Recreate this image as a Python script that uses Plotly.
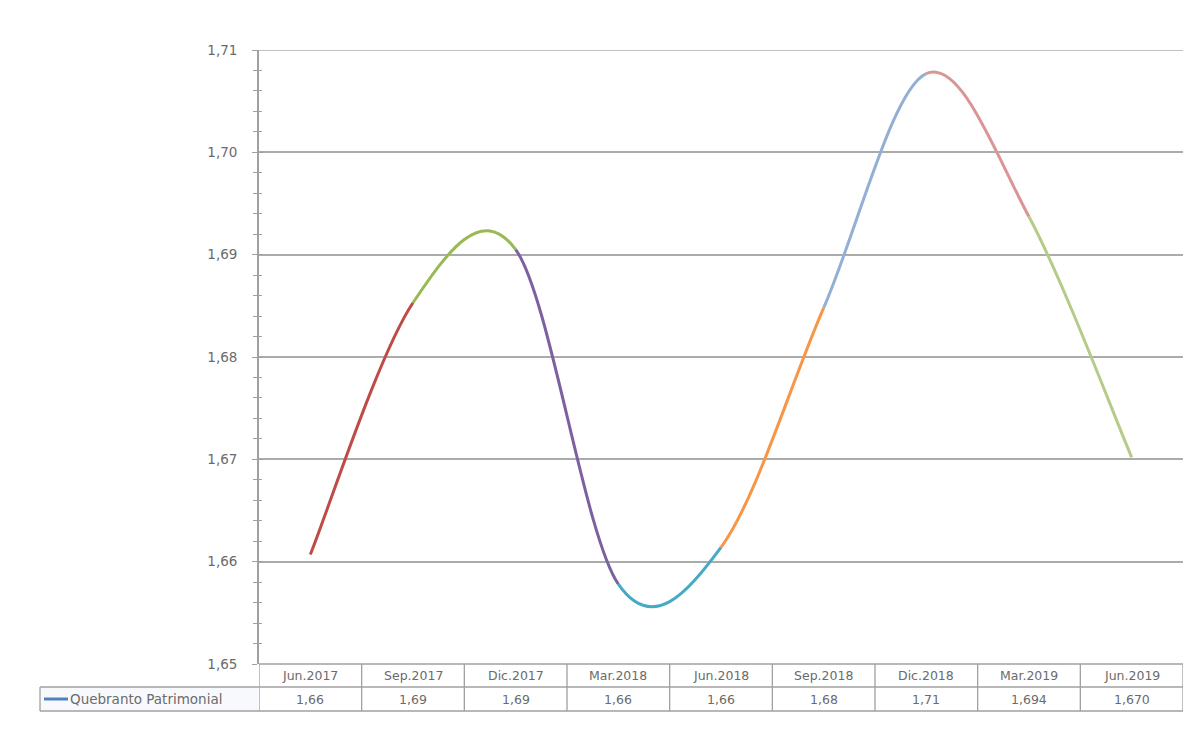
import plotly.graph_objects as go

# ---------------- data ----------------
categories = ["Jun.2017", "Sep.2017", "Dic.2017", "Mar.2018", "Jun.2018",
              "Sep.2018", "Dic.2018", "Mar.2019", "Jun.2019"]
values = [1.6607, 1.6853, 1.6905, 1.6578, 1.6614, 1.6848, 1.7077, 1.6937, 1.6702]
table_labels = ["1,66", "1,69", "1,69", "1,66", "1,66", "1,68", "1,71", "1,694", "1,670"]
series_name = "Quebranto Patrimonial"
y_range = [1.65, 1.71]

# ---------------- style ----------------
segment_colors = ["#BE4B48", "#98B954", "#7D60A0", "#46AAC5", "#F79646",
                  "#92AFD6", "#D99694", "#B5CC88"]
legend_color = "#4F81BD"
text_color = "#6B6B6B"
grid_color = "#ABABAB"
border_color = "#A0A0A0"
FONT = "DejaVu Sans"

W, H = 1185, 739
ML, MR, MT, MB = 259, 2, 50, 75
PW, PH = W - ML - MR, H - MT - MB

def px_x(p):
    return (p - ML) / PW

def px_y(p):
    return (H - MB - p) / PH

n = len(categories)
xs = list(range(n))
pts = list(zip(xs, values))

def tangent(i):
    a = pts[max(i - 1, 0)]
    b = pts[min(i + 1, n - 1)]
    return ((b[0] - a[0]) / 6.0, (b[1] - a[1]) / 6.0)

shapes = []
# top gridline (at the upper end of the axis range)
shapes.append(dict(type="line", xref="paper", yref="y", x0=0, x1=1,
                   y0=y_range[1], y1=y_range[1],
                   line=dict(color=grid_color, width=1.6), layer="below"))
# smoothed line, one coloured Bezier segment per interval (control points from data)
for i in range(n - 1):
    x0, y0 = pts[i]
    x3, y3 = pts[i + 1]
    t0 = tangent(i)
    t1 = tangent(i + 1)
    c1 = (x0 + t0[0], y0 + t0[1])
    c2 = (x3 - t1[0], y3 - t1[1])
    path = f"M {x0},{y0} C {c1[0]},{c1[1]} {c2[0]},{c2[1]} {x3},{y3}"
    shapes.append(dict(type="path", path=path, xref="x", yref="y",
                       line=dict(color=segment_colors[i], width=3), layer="above"))

# data table
row1 = px_y(687)
row2 = px_y(711)
left_cell = px_x(40)
shapes.append(dict(type="rect", xref="paper", yref="paper", x0=left_cell, x1=0,
                   y0=row2, y1=row1, fillcolor="#F8F9FC", line=dict(width=0), layer="below"))
shapes.append(dict(type="line", xref="paper", yref="paper", x0=0, x1=1, y0=0, y1=0,
                   line=dict(color=border_color, width=1.5)))
for yy in (row1, row2):
    shapes.append(dict(type="line", xref="paper", yref="paper", x0=left_cell, x1=1,
                       y0=yy, y1=yy, line=dict(color=border_color, width=1.3)))
for i in range(n + 1):
    shapes.append(dict(type="line", xref="x", yref="paper", x0=i - 0.5, x1=i - 0.5,
                       y0=0, y1=row2, line=dict(color=border_color, width=1.3)))
shapes.append(dict(type="line", xref="paper", yref="paper", x0=left_cell, x1=left_cell,
                   y0=row1, y1=row2, line=dict(color=border_color, width=1.3)))
# legend key
shapes.append(dict(type="line", xref="paper", yref="paper", x0=px_x(44), x1=px_x(68),
                   y0=px_y(699), y1=px_y(699), line=dict(color=legend_color, width=3)))

annotations = []
for i, c in enumerate(categories):
    annotations.append(dict(x=i, y=px_y(675.5), xref="x", yref="paper", text=c,
                            showarrow=False, xanchor="center", yanchor="middle",
                            font=dict(family=FONT, size=12.5, color=text_color)))
    annotations.append(dict(x=i, y=px_y(699), xref="x", yref="paper", text=table_labels[i],
                            showarrow=False, xanchor="center", yanchor="middle",
                            font=dict(family=FONT, size=12.5, color=text_color)))
annotations.append(dict(x=px_x(68), y=px_y(699), xref="paper", yref="paper", text=series_name,
                        showarrow=False, xanchor="left", yanchor="middle",
                        font=dict(family=FONT, size=13.5, color=text_color)))

fig = go.Figure()
fig.add_trace(go.Scatter(x=xs, y=values, name=series_name, mode="markers",
                         marker=dict(opacity=0, color=legend_color), yaxis="y2",
                         showlegend=False,
                         text=categories, hovertemplate="%{text}: %{y:.3f}<extra></extra>"))

axis_range = [y_range[0], y_range[1]]
fig.update_layout(
    width=W, height=H,
    margin=dict(l=ML, r=MR, t=MT, b=MB),
    paper_bgcolor="white", plot_bgcolor="white",
    separators=",.",
    showlegend=False,
    font=dict(family=FONT, size=12, color=text_color),
    xaxis=dict(range=[-0.5, n - 0.5], visible=False, fixedrange=True),
    yaxis=dict(range=axis_range, dtick=0.01, tick0=1.65, tickformat=".2f",
               showgrid=True, gridcolor=grid_color, gridwidth=1.6,
               showline=True, linecolor=border_color, linewidth=1.8,
               ticks="outside", ticklen=5, tickcolor=border_color, tickwidth=1.3,
               minor=dict(dtick=0.002, ticks="outside", ticklen=4,
                          tickcolor=border_color, tickwidth=1.3, showgrid=False),
               ticklabelstandoff=12, zeroline=False,
               tickfont=dict(family=FONT, size=13.5, color=text_color)),
    yaxis2=dict(range=axis_range, overlaying="y", anchor="x", side="left",
                dtick=0.01, tick0=1.65, showgrid=False, zeroline=False, showticklabels=False,
                ticks="inside", ticklen=4, tickcolor=border_color, tickwidth=1.3,
                minor=dict(dtick=0.002, ticks="inside", ticklen=3,
                           tickcolor=border_color, tickwidth=1.3, showgrid=False)),
    shapes=shapes,
    annotations=annotations,
)

fig.write_html("out.html")
